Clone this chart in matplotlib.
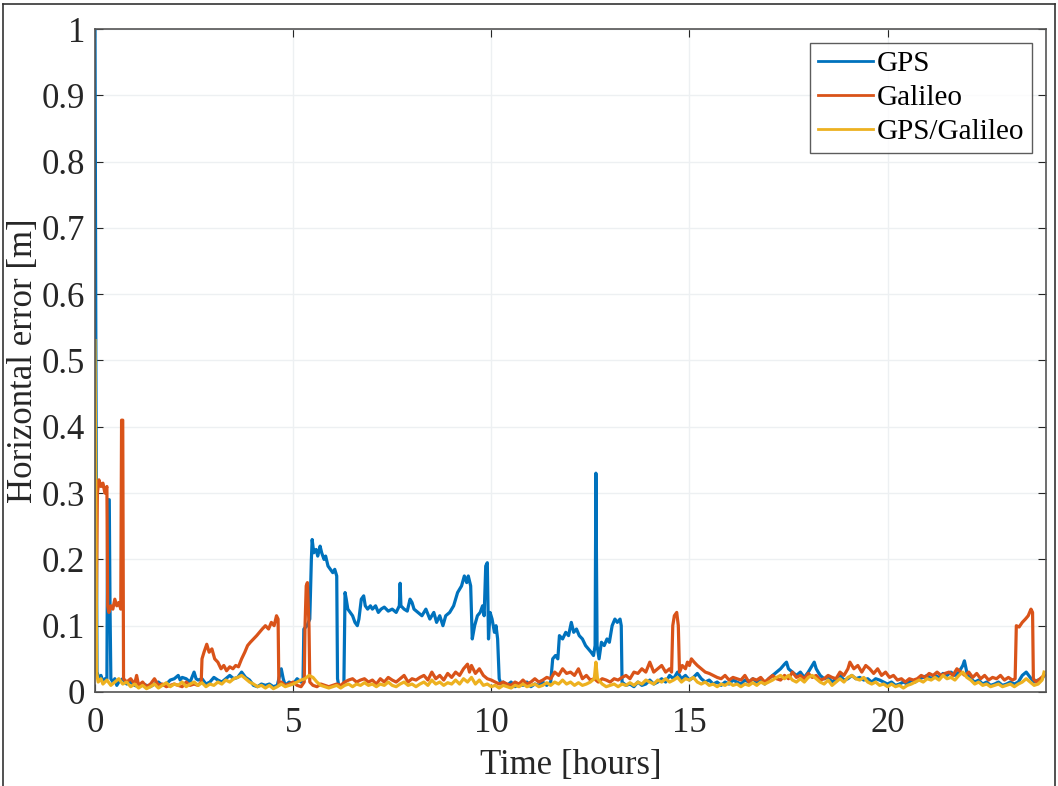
import matplotlib
matplotlib.use("Agg")
import matplotlib.pyplot as plt
from matplotlib.lines import Line2D

# ---------------- data ----------------
series_names = ["GPS", "Galileo", "GPS/Galileo"]
series_colors = ["#0072BD", "#D95319", "#EDB120"]

gps_pts = [
    (0.00, 1.00), (0.02, 0.55), (0.05, 0.03), (0.10, 0.02), (0.15, 0.025), (0.20, 0.015),
    (0.25, 0.02), (0.30, 0.02), (0.32, 0.29), (0.36, 0.29), (0.38, 0.12), (0.40, 0.02),
    (0.45, 0.015), (0.50, 0.02), (0.55, 0.01), (0.60, 0.015), (0.70, 0.02), (0.80, 0.012),
    (0.90, 0.015), (1.00, 0.01), (1.10, 0.008), (1.20, 0.012), (1.30, 0.01), (1.40, 0.008),
    (1.50, 0.012), (1.60, 0.015), (1.70, 0.01), (1.80, 0.012), (1.90, 0.018), (2.00, 0.02),
    (2.10, 0.025), (2.15, 0.018), (2.20, 0.022), (2.30, 0.02), (2.40, 0.015), (2.50, 0.03),
    (2.55, 0.02), (2.60, 0.018), (2.70, 0.02), (2.80, 0.012), (2.90, 0.015), (3.00, 0.022),
    (3.10, 0.018), (3.20, 0.015), (3.30, 0.02), (3.40, 0.025), (3.50, 0.02), (3.60, 0.022),
    (3.70, 0.03), (3.80, 0.022), (3.90, 0.018), (4.00, 0.01), (4.10, 0.008), (4.20, 0.012),
    (4.30, 0.01), (4.40, 0.012), (4.50, 0.008), (4.60, 0.01), (4.70, 0.035), (4.75, 0.02),
    (4.80, 0.01), (4.90, 0.015), (5.00, 0.012), (5.10, 0.02), (5.20, 0.015), (5.25, 0.02),
    (5.27, 0.095), (5.35, 0.10), (5.42, 0.11), (5.46, 0.20), (5.48, 0.23), (5.52, 0.21),
    (5.58, 0.215), (5.62, 0.205), (5.68, 0.22), (5.72, 0.21), (5.78, 0.20), (5.82, 0.205),
    (5.88, 0.19), (5.94, 0.185), (6.00, 0.18), (6.05, 0.185), (6.10, 0.175), (6.12, 0.02),
    (6.15, 0.01), (6.20, 0.008), (6.28, 0.01), (6.31, 0.15), (6.34, 0.14), (6.38, 0.125),
    (6.44, 0.12), (6.50, 0.115), (6.56, 0.105), (6.62, 0.10), (6.66, 0.11), (6.72, 0.14),
    (6.78, 0.145), (6.82, 0.13), (6.88, 0.125), (6.95, 0.13), (7.00, 0.125), (7.08, 0.13),
    (7.15, 0.12), (7.22, 0.125), (7.30, 0.128), (7.40, 0.122), (7.50, 0.125), (7.60, 0.12),
    (7.68, 0.13), (7.70, 0.164), (7.72, 0.13), (7.80, 0.125), (7.88, 0.122), (7.95, 0.14),
    (8.00, 0.135), (8.05, 0.125), (8.15, 0.12), (8.25, 0.115), (8.35, 0.125), (8.45, 0.11),
    (8.55, 0.12), (8.62, 0.105), (8.70, 0.115), (8.78, 0.10), (8.85, 0.115), (8.95, 0.12),
    (9.05, 0.13), (9.15, 0.15), (9.25, 0.16), (9.32, 0.175), (9.38, 0.165), (9.42, 0.175),
    (9.48, 0.16), (9.52, 0.08), (9.58, 0.10), (9.65, 0.115), (9.72, 0.12), (9.78, 0.13),
    (9.82, 0.115), (9.86, 0.19), (9.90, 0.195), (9.93, 0.08), (9.97, 0.12), (10.02, 0.11),
    (10.08, 0.09), (10.12, 0.10), (10.16, 0.08), (10.20, 0.02), (10.25, 0.012), (10.30, 0.015),
    (10.40, 0.01), (10.50, 0.015), (10.60, 0.008), (10.70, 0.012), (10.80, 0.01), (10.90, 0.015),
    (11.00, 0.008), (11.10, 0.012), (11.20, 0.01), (11.30, 0.015), (11.40, 0.01), (11.50, 0.015),
    (11.55, 0.05), (11.62, 0.055), (11.68, 0.05), (11.72, 0.085), (11.80, 0.08), (11.88, 0.09),
    (11.95, 0.085), (12.02, 0.105), (12.08, 0.09), (12.15, 0.095), (12.22, 0.085), (12.30, 0.08),
    (12.38, 0.07), (12.45, 0.065), (12.52, 0.06), (12.58, 0.055), (12.62, 0.07), (12.64, 0.33),
    (12.67, 0.07), (12.72, 0.05), (12.78, 0.075), (12.85, 0.07), (12.92, 0.08), (12.98, 0.075),
    (13.05, 0.10), (13.12, 0.11), (13.18, 0.105), (13.25, 0.11), (13.28, 0.10), (13.30, 0.015),
    (13.40, 0.01), (13.50, 0.012), (13.60, 0.008), (13.70, 0.015), (13.80, 0.01), (13.90, 0.012),
    (14.00, 0.018), (14.10, 0.012), (14.20, 0.015), (14.30, 0.02), (14.40, 0.015), (14.50, 0.025),
    (14.60, 0.02), (14.70, 0.03), (14.80, 0.02), (14.90, 0.025), (15.00, 0.018), (15.10, 0.022),
    (15.20, 0.028), (15.30, 0.02), (15.40, 0.015), (15.50, 0.018), (15.60, 0.012), (15.70, 0.015),
    (15.80, 0.01), (15.90, 0.015), (16.00, 0.012), (16.10, 0.018), (16.20, 0.015), (16.30, 0.012),
    (16.40, 0.018), (16.50, 0.015), (16.60, 0.02), (16.70, 0.015), (16.80, 0.018), (16.90, 0.012),
    (17.00, 0.02), (17.10, 0.025), (17.20, 0.03), (17.30, 0.035), (17.40, 0.042), (17.45, 0.045),
    (17.50, 0.035), (17.60, 0.03), (17.70, 0.025), (17.80, 0.03), (17.90, 0.022), (18.00, 0.03),
    (18.10, 0.04), (18.15, 0.045), (18.20, 0.035), (18.30, 0.025), (18.40, 0.02), (18.50, 0.022),
    (18.60, 0.015), (18.70, 0.02), (18.80, 0.025), (18.90, 0.018), (19.00, 0.02), (19.10, 0.025),
    (19.20, 0.02), (19.30, 0.022), (19.40, 0.018), (19.50, 0.02), (19.60, 0.015), (19.70, 0.02),
    (19.80, 0.018), (19.90, 0.015), (20.00, 0.012), (20.10, 0.015), (20.20, 0.01), (20.30, 0.012),
    (20.40, 0.015), (20.50, 0.012), (20.60, 0.018), (20.70, 0.015), (20.80, 0.02), (20.90, 0.022),
    (21.00, 0.025), (21.10, 0.02), (21.20, 0.025), (21.30, 0.022), (21.40, 0.028), (21.50, 0.025),
    (21.60, 0.03), (21.70, 0.025), (21.80, 0.03), (21.90, 0.04), (21.94, 0.047), (22.00, 0.03),
    (22.10, 0.02), (22.20, 0.015), (22.30, 0.018), (22.40, 0.012), (22.50, 0.015), (22.60, 0.01),
    (22.70, 0.012), (22.80, 0.015), (22.90, 0.01), (23.00, 0.012), (23.10, 0.015), (23.20, 0.012),
    (23.30, 0.015), (23.40, 0.025), (23.50, 0.03), (23.60, 0.022), (23.70, 0.015), (23.80, 0.018),
    (23.90, 0.02), (23.95, 0.025),
]

galileo_pts = [
    (0.00, 0.07), (0.03, 0.10), (0.06, 0.30), (0.10, 0.32), (0.15, 0.31), (0.20, 0.315),
    (0.25, 0.30), (0.30, 0.31), (0.32, 0.13), (0.35, 0.12), (0.40, 0.13), (0.45, 0.125),
    (0.50, 0.14), (0.55, 0.13), (0.60, 0.135), (0.65, 0.125), (0.67, 0.41), (0.70, 0.41),
    (0.72, 0.02), (0.80, 0.015), (0.90, 0.02), (1.00, 0.012), (1.05, 0.025), (1.10, 0.01),
    (1.20, 0.015), (1.30, 0.008), (1.40, 0.012), (1.50, 0.02), (1.60, 0.01), (1.70, 0.012),
    (1.80, 0.008), (1.90, 0.01), (2.00, 0.012), (2.10, 0.01), (2.20, 0.008), (2.30, 0.015),
    (2.40, 0.01), (2.50, 0.012), (2.60, 0.01), (2.68, 0.015), (2.70, 0.05), (2.75, 0.06),
    (2.82, 0.072), (2.88, 0.06), (2.95, 0.065), (3.02, 0.05), (3.10, 0.045), (3.18, 0.035),
    (3.25, 0.04), (3.32, 0.032), (3.40, 0.038), (3.48, 0.035), (3.55, 0.04), (3.62, 0.038),
    (3.70, 0.05), (3.78, 0.06), (3.85, 0.07), (3.92, 0.075), (4.00, 0.08), (4.08, 0.085),
    (4.15, 0.09), (4.22, 0.095), (4.30, 0.10), (4.38, 0.095), (4.45, 0.105), (4.52, 0.10),
    (4.58, 0.115), (4.62, 0.11), (4.64, 0.01), (4.70, 0.015), (4.80, 0.01), (4.90, 0.012),
    (5.00, 0.015), (5.10, 0.01), (5.20, 0.008), (5.28, 0.015), (5.30, 0.10), (5.33, 0.16),
    (5.36, 0.165), (5.40, 0.10), (5.42, 0.015), (5.50, 0.01), (5.60, 0.008), (5.70, 0.012),
    (5.80, 0.01), (5.90, 0.008), (6.00, 0.01), (6.10, 0.012), (6.20, 0.01), (6.30, 0.015),
    (6.40, 0.018), (6.50, 0.02), (6.60, 0.015), (6.70, 0.018), (6.80, 0.02), (6.90, 0.015),
    (7.00, 0.018), (7.10, 0.012), (7.20, 0.02), (7.30, 0.015), (7.40, 0.022), (7.50, 0.018),
    (7.60, 0.015), (7.70, 0.02), (7.80, 0.025), (7.90, 0.015), (8.00, 0.02), (8.10, 0.018),
    (8.20, 0.022), (8.30, 0.025), (8.40, 0.018), (8.50, 0.03), (8.60, 0.02), (8.70, 0.025),
    (8.80, 0.018), (8.90, 0.028), (9.00, 0.022), (9.10, 0.03), (9.20, 0.025), (9.30, 0.035),
    (9.40, 0.042), (9.45, 0.03), (9.50, 0.04), (9.60, 0.028), (9.70, 0.035), (9.80, 0.025),
    (9.90, 0.02), (10.00, 0.018), (10.10, 0.015), (10.20, 0.012), (10.30, 0.015), (10.40, 0.012),
    (10.50, 0.01), (10.60, 0.015), (10.70, 0.012), (10.80, 0.018), (10.90, 0.012), (11.00, 0.015),
    (11.10, 0.02), (11.20, 0.015), (11.30, 0.018), (11.40, 0.022), (11.50, 0.02), (11.60, 0.03),
    (11.70, 0.025), (11.80, 0.035), (11.90, 0.028), (12.00, 0.03), (12.10, 0.025), (12.20, 0.035),
    (12.30, 0.02), (12.40, 0.025), (12.50, 0.018), (12.60, 0.02), (12.70, 0.015), (12.80, 0.02),
    (12.90, 0.018), (13.00, 0.015), (13.10, 0.02), (13.20, 0.018), (13.30, 0.022), (13.40, 0.025),
    (13.50, 0.02), (13.60, 0.03), (13.70, 0.028), (13.80, 0.035), (13.90, 0.03), (14.00, 0.045),
    (14.10, 0.03), (14.20, 0.035), (14.30, 0.04), (14.40, 0.03), (14.50, 0.035), (14.55, 0.03),
    (14.58, 0.10), (14.62, 0.115), (14.68, 0.12), (14.72, 0.10), (14.75, 0.03), (14.82, 0.04),
    (14.90, 0.035), (14.95, 0.045), (15.00, 0.04), (15.05, 0.05), (15.12, 0.045), (15.20, 0.04),
    (15.30, 0.035), (15.40, 0.03), (15.50, 0.028), (15.60, 0.025), (15.70, 0.022), (15.80, 0.02),
    (15.90, 0.025), (16.00, 0.018), (16.10, 0.022), (16.20, 0.02), (16.30, 0.018), (16.40, 0.025),
    (16.50, 0.015), (16.60, 0.02), (16.70, 0.018), (16.80, 0.022), (16.90, 0.015), (17.00, 0.02),
    (17.10, 0.025), (17.20, 0.02), (17.30, 0.018), (17.40, 0.025), (17.50, 0.02), (17.60, 0.03),
    (17.70, 0.022), (17.80, 0.025), (17.90, 0.02), (18.00, 0.028), (18.10, 0.022), (18.20, 0.025),
    (18.30, 0.018), (18.40, 0.02), (18.50, 0.025), (18.60, 0.022), (18.70, 0.02), (18.80, 0.03),
    (18.90, 0.025), (19.00, 0.035), (19.05, 0.045), (19.15, 0.035), (19.25, 0.04), (19.35, 0.03),
    (19.45, 0.04), (19.55, 0.035), (19.65, 0.028), (19.75, 0.035), (19.85, 0.025), (19.95, 0.03),
    (20.05, 0.022), (20.15, 0.025), (20.25, 0.018), (20.35, 0.02), (20.45, 0.015), (20.55, 0.02),
    (20.65, 0.018), (20.75, 0.02), (20.85, 0.025), (20.95, 0.022), (21.05, 0.028), (21.15, 0.025),
    (21.25, 0.03), (21.35, 0.025), (21.45, 0.028), (21.55, 0.03), (21.65, 0.025), (21.75, 0.035),
    (21.85, 0.03), (21.95, 0.025), (22.05, 0.03), (22.15, 0.022), (22.25, 0.028), (22.35, 0.02),
    (22.45, 0.025), (22.55, 0.018), (22.65, 0.022), (22.75, 0.02), (22.85, 0.025), (22.95, 0.018),
    (23.05, 0.022), (23.15, 0.018), (23.22, 0.02), (23.25, 0.10), (23.32, 0.098), (23.40, 0.105),
    (23.48, 0.11), (23.55, 0.115), (23.62, 0.125), (23.66, 0.12), (23.68, 0.02), (23.75, 0.015),
    (23.85, 0.02), (23.95, 0.025),
]

combined_pts = [
    (0.00, 0.53), (0.02, 0.30), (0.04, 0.03), (0.08, 0.015), (0.15, 0.02), (0.20, 0.012),
    (0.30, 0.018), (0.40, 0.01), (0.50, 0.015), (0.60, 0.02), (0.70, 0.012), (0.80, 0.015),
    (0.90, 0.008), (1.00, 0.012), (1.10, 0.006), (1.20, 0.01), (1.30, 0.005), (1.40, 0.008),
    (1.50, 0.012), (1.60, 0.006), (1.70, 0.01), (1.80, 0.014), (1.90, 0.008), (2.00, 0.012),
    (2.10, 0.01), (2.20, 0.015), (2.30, 0.008), (2.40, 0.012), (2.50, 0.015), (2.60, 0.01),
    (2.70, 0.014), (2.80, 0.008), (2.90, 0.012), (3.00, 0.01), (3.10, 0.015), (3.20, 0.012),
    (3.30, 0.018), (3.40, 0.015), (3.50, 0.02), (3.60, 0.022), (3.70, 0.025), (3.80, 0.02),
    (3.90, 0.015), (4.00, 0.012), (4.10, 0.008), (4.20, 0.01), (4.30, 0.006), (4.40, 0.01),
    (4.50, 0.005), (4.60, 0.008), (4.70, 0.012), (4.80, 0.008), (4.90, 0.01), (5.00, 0.012),
    (5.10, 0.015), (5.20, 0.018), (5.30, 0.02), (5.40, 0.025), (5.50, 0.022), (5.60, 0.015),
    (5.70, 0.01), (5.80, 0.008), (5.90, 0.006), (6.00, 0.008), (6.10, 0.01), (6.20, 0.006),
    (6.30, 0.01), (6.40, 0.012), (6.50, 0.008), (6.60, 0.012), (6.70, 0.01), (6.80, 0.014),
    (6.90, 0.01), (7.00, 0.012), (7.10, 0.008), (7.20, 0.012), (7.30, 0.01), (7.40, 0.015),
    (7.50, 0.01), (7.60, 0.008), (7.70, 0.012), (7.80, 0.015), (7.90, 0.01), (8.00, 0.012),
    (8.10, 0.008), (8.20, 0.012), (8.30, 0.015), (8.40, 0.01), (8.50, 0.018), (8.60, 0.012),
    (8.70, 0.015), (8.80, 0.01), (8.90, 0.014), (9.00, 0.012), (9.10, 0.018), (9.20, 0.012),
    (9.30, 0.02), (9.40, 0.015), (9.50, 0.022), (9.60, 0.012), (9.70, 0.018), (9.80, 0.01),
    (9.90, 0.012), (10.00, 0.008), (10.10, 0.01), (10.20, 0.006), (10.30, 0.01), (10.40, 0.008),
    (10.50, 0.006), (10.60, 0.01), (10.70, 0.008), (10.80, 0.012), (10.90, 0.008), (11.00, 0.01),
    (11.10, 0.012), (11.20, 0.008), (11.30, 0.01), (11.40, 0.014), (11.50, 0.01), (11.60, 0.015),
    (11.70, 0.012), (11.80, 0.018), (11.90, 0.012), (12.00, 0.015), (12.10, 0.01), (12.20, 0.014),
    (12.30, 0.01), (12.40, 0.012), (12.50, 0.015), (12.60, 0.02), (12.64, 0.045), (12.68, 0.02),
    (12.80, 0.012), (12.90, 0.008), (13.00, 0.01), (13.10, 0.012), (13.20, 0.008), (13.30, 0.012),
    (13.40, 0.01), (13.50, 0.014), (13.60, 0.01), (13.70, 0.015), (13.80, 0.012), (13.90, 0.018),
    (14.00, 0.015), (14.10, 0.012), (14.20, 0.018), (14.30, 0.015), (14.40, 0.02), (14.50, 0.015),
    (14.60, 0.018), (14.70, 0.022), (14.80, 0.015), (14.90, 0.02), (15.00, 0.018), (15.10, 0.022),
    (15.20, 0.015), (15.30, 0.012), (15.40, 0.015), (15.50, 0.01), (15.60, 0.012), (15.70, 0.008),
    (15.80, 0.012), (15.90, 0.01), (16.00, 0.014), (16.10, 0.01), (16.20, 0.012), (16.30, 0.008),
    (16.40, 0.012), (16.50, 0.01), (16.60, 0.014), (16.70, 0.01), (16.80, 0.015), (16.90, 0.012),
    (17.00, 0.015), (17.10, 0.018), (17.20, 0.022), (17.30, 0.025), (17.40, 0.02), (17.50, 0.025),
    (17.60, 0.018), (17.70, 0.015), (17.80, 0.02), (17.90, 0.015), (18.00, 0.022), (18.10, 0.025),
    (18.20, 0.02), (18.30, 0.015), (18.40, 0.012), (18.50, 0.018), (18.60, 0.01), (18.70, 0.015),
    (18.80, 0.02), (18.90, 0.015), (19.00, 0.022), (19.10, 0.025), (19.20, 0.02), (19.30, 0.018),
    (19.40, 0.022), (19.50, 0.015), (19.60, 0.012), (19.70, 0.015), (19.80, 0.01), (19.90, 0.012),
    (20.00, 0.008), (20.10, 0.012), (20.20, 0.008), (20.30, 0.01), (20.40, 0.006), (20.50, 0.01),
    (20.60, 0.012), (20.70, 0.015), (20.80, 0.018), (20.90, 0.015), (21.00, 0.02), (21.10, 0.018),
    (21.20, 0.022), (21.30, 0.018), (21.40, 0.025), (21.50, 0.02), (21.60, 0.022), (21.70, 0.018),
    (21.80, 0.025), (21.90, 0.03), (22.00, 0.022), (22.10, 0.018), (22.20, 0.012), (22.30, 0.015),
    (22.40, 0.01), (22.50, 0.012), (22.60, 0.008), (22.70, 0.01), (22.80, 0.012), (22.90, 0.008),
    (23.00, 0.01), (23.10, 0.012), (23.20, 0.008), (23.30, 0.012), (23.40, 0.015), (23.50, 0.02),
    (23.60, 0.015), (23.70, 0.01), (23.80, 0.012), (23.90, 0.018), (23.95, 0.03),
]

x_ticks = [0, 5, 10, 15, 20]
y_ticks = [0, 0.1, 0.2, 0.3, 0.4, 0.5, 0.6, 0.7, 0.8, 0.9, 1.0]
y_tick_labels = ["0", "0.1", "0.2", "0.3", "0.4", "0.5", "0.6", "0.7", "0.8", "0.9", "1"]
x_label = "Time [hours]"
y_label = "Horizontal error [m]"

# ---------------- figure ----------------
plt.rcParams["font.family"] = ["Liberation Serif", "DejaVu Serif"]

fig = plt.figure(figsize=(10.58, 7.86), dpi=100)
fig.patch.set_facecolor("white")

# outer frame of the picture
for xs, ys in [([0.003, 0.003], [0.0, 0.995]), ([0.003, 0.997], [0.995, 0.995]),
               ([0.997, 0.997], [0.0, 0.995])]:
    fig.add_artist(Line2D(xs, ys, transform=fig.transFigure, color="#333333", lw=1.2))

ax = fig.add_axes([0.0898, 0.1196, 0.8989, 0.8435])

for pts, name, col in zip([gps_pts, galileo_pts, combined_pts], series_names, series_colors):
    t = [p[0] for p in pts]
    v = [p[1] for p in pts]
    ax.plot(t, v, color=col, lw=2.3, label=name, solid_joinstyle="round")

ax.set_xlim(0, 24)
ax.set_ylim(0, 1)
ax.set_xticks(x_ticks)
ax.set_xticklabels([str(x) for x in x_ticks])
ax.set_yticks(y_ticks)
ax.set_yticklabels(y_tick_labels)
ax.tick_params(direction="in", length=6, width=0.8, labelsize=25, colors="#262626",
               top=True, right=True, pad=7)
ax.tick_params(axis="x", pad=11)
ax.grid(True, color="#edf0f2", lw=1.0)
ax.set_axisbelow(True)
for sp in ax.spines.values():
    sp.set_color("#555555")
    sp.set_linewidth(1.2)

ax.set_xlabel(x_label, fontsize=25, color="#262626", labelpad=6)
ax.set_ylabel(y_label, fontsize=25, color="#262626")
ax.yaxis.set_label_coords(-0.058, 0.5)

leg = ax.legend(loc="upper right", bbox_to_anchor=(0.985, 0.979), fontsize=21,
                frameon=True, fancybox=False, edgecolor="#333333", handlelength=1.9,
                handletextpad=0.1, labelspacing=0.26, borderpad=0.27, borderaxespad=0.0)
leg.get_frame().set_linewidth(1.0)
for line in leg.get_lines():
    line.set_linewidth(2.0)

fig.savefig("out.png", dpi=100, facecolor="white")
